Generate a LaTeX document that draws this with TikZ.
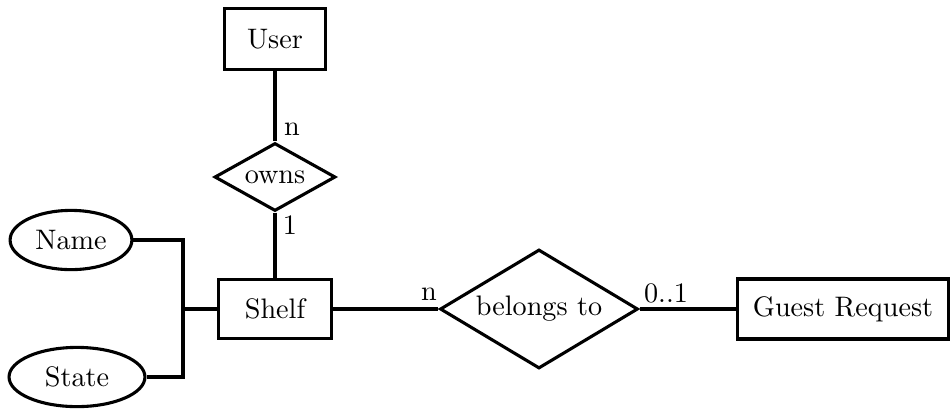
\documentclass[tikz,border=0pt]{standalone}
\usetikzlibrary{shapes.geometric}
\begin{document}
\begin{tikzpicture}[x=0.3546pt, y=-0.3546pt,
  every node/.style={font=\normalsize},
  entity/.style={draw, line width=1.1pt, rectangle, inner sep=0pt},
  attr/.style={draw, line width=1.1pt, ellipse, inner sep=0pt},
  rel/.style={draw, line width=1.1pt, diamond, inner sep=0pt},
  link/.style={line width=1.1pt},
  card/.style={inner sep=0pt}]
  \useasboundingbox (0,0) rectangle (952,408);

  % entities
  \node[entity, minimum width=35.8pt, minimum height=21.6pt] (user) at (275,39) {User};
  \node[entity, minimum width=40pt, minimum height=21pt] (shelf) at (275,309) {Shelf};
  \node[entity, minimum width=74.8pt, minimum height=21.3pt] (guest) at (843,309) {Guest Request};

  % relationships
  \node[rel, aspect=1.75, minimum width=42.9pt, minimum height=24.1pt] (owns) at (275,177) {owns};
  \node[rel, aspect=1.66, minimum width=70.2pt, minimum height=42.2pt] (belongs) at (539,309) {belongs to};

  % attributes
  \node[attr, minimum width=43.2pt, minimum height=21pt] (name) at (71,240) {Name};
  \node[attr, minimum width=48.2pt, minimum height=21pt] (state) at (77,377) {State};

  \coordinate (jn) at (183,309);

  % connectors
  \draw[link] (user.south) -- (owns.north);
  \draw[link] (owns.south) -- (shelf.north);
  \draw[link] (shelf.east) -- (belongs.west);
  \draw[link] (belongs.east) -- (guest.west);
  \draw[link] (name.east) -| (jn);
  \draw[link] (state.east) -| (jn);
  \draw[link] (jn) -- (shelf.west);

  % cardinalities
  \node[card] (c1) at (292,129) {n};
  \node[card] (c2) at (290,225) {1};
  \node[card] (c3) at (429,294) {n};
  \node[card] (c4) at (666,293) {0..1};
\end{tikzpicture}
\end{document}
